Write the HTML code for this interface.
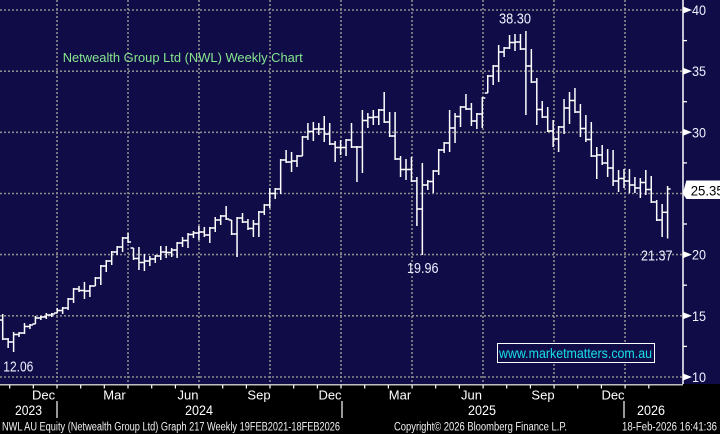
<!DOCTYPE html>
<html>
<head>
<meta charset="utf-8">
<style>
  html,body{margin:0;padding:0;background:#000;}
  body{width:720px;height:434px;overflow:hidden;}
  svg{display:block;font-family:"Liberation Sans",Arial,sans-serif;}
</style>
</head>
<body>
<svg id="c" width="720" height="434" viewBox="0 0 720 434" xmlns="http://www.w3.org/2000/svg">
  <rect x="0" y="0" width="720" height="384" fill="#100c48"/>
  <rect x="0" y="384" width="720" height="50" fill="#000"/>
  <g id="grid" stroke="#8c8c8c" stroke-width="1.6" stroke-dasharray="2,2" fill="none">
    <line x1="0" y1="10" x2="683" y2="10"/>
    <line x1="0" y1="71.2" x2="683" y2="71.2"/>
    <line x1="0" y1="132.3" x2="683" y2="132.3"/>
    <line x1="0" y1="193.5" x2="683" y2="193.5"/>
    <line x1="0" y1="254.6" x2="683" y2="254.6"/>
    <line x1="0" y1="315.8" x2="683" y2="315.8"/>
    <line x1="0" y1="377" x2="683" y2="377"/>
    <line x1="57" y1="0" x2="57" y2="384"/>
    <line x1="128" y1="0" x2="128" y2="384"/>
    <line x1="199" y1="0" x2="199" y2="384"/>
    <line x1="270" y1="0" x2="270" y2="384"/>
    <line x1="341" y1="0" x2="341" y2="384"/>
    <line x1="412" y1="0" x2="412" y2="384"/>
    <line x1="483" y1="0" x2="483" y2="384"/>
    <line x1="554" y1="0" x2="554" y2="384"/>
    <line x1="625" y1="0" x2="625" y2="384"/>
  </g>

  <!-- right axis -->
  <line x1="683" y1="0" x2="683" y2="384" stroke="#fff" stroke-width="1.5"/>
  <g fill="#fff">
    <polygon points="683,6.5 683,13.5 692,10"/>
    <polygon points="683,67.7 683,74.7 692,71.2"/>
    <polygon points="683,128.8 683,135.8 692,132.3"/>
    <polygon points="683,251.1 683,258.1 692,254.6"/>
    <polygon points="683,312.3 683,319.3 692,315.8"/>
    <polygon points="683,373.5 683,380.5 692,377"/>
  </g>
  <g stroke="#fff" stroke-width="1.3">
    <line x1="683" y1="40.6" x2="687" y2="40.6"/>
    <line x1="683" y1="101.7" x2="687" y2="101.7"/>
    <line x1="683" y1="162.9" x2="687" y2="162.9"/>
    <line x1="683" y1="224" x2="687" y2="224"/>
    <line x1="683" y1="285.2" x2="687" y2="285.2"/>
    <line x1="683" y1="346.4" x2="687" y2="346.4"/>
  </g>
  <g fill="#eef2ff" font-size="14">
    <text x="692" y="15" textLength="14" lengthAdjust="spacingAndGlyphs">40</text>
    <text x="692" y="76.2" textLength="14" lengthAdjust="spacingAndGlyphs">35</text>
    <text x="692" y="137.3" textLength="14" lengthAdjust="spacingAndGlyphs">30</text>
    <text x="692" y="259.6" textLength="14" lengthAdjust="spacingAndGlyphs">20</text>
    <text x="692" y="320.8" textLength="14" lengthAdjust="spacingAndGlyphs">15</text>
    <text x="692" y="382" textLength="14" lengthAdjust="spacingAndGlyphs">10</text>
  </g>
  <!-- last price box -->
  <polygon points="686.7,181 721,181 721,198.5 686.7,198.5 683.3,193.5" fill="#fff" stroke="#fff" stroke-width="1"/>
  <text x="690.7" y="195.3" font-size="14" fill="#000" textLength="33" lengthAdjust="spacingAndGlyphs">25.35</text>

  <!-- bars -->
  <g id="bars" stroke="#fff" stroke-width="1.5" fill="none"></g>

  <!-- annotations -->
  <text x="62.7" y="62" font-size="13" fill="#86e68e" textLength="240" lengthAdjust="spacingAndGlyphs">Netwealth Group Ltd (NWL) Weekly Chart</text>
  <g fill="#eef2ff" font-size="14.5">
    <text x="499" y="23.3" textLength="32" lengthAdjust="spacingAndGlyphs">38.30</text>
    <text x="407" y="273" textLength="31.5" lengthAdjust="spacingAndGlyphs">19.96</text>
    <text x="641" y="260.7" textLength="31.5" lengthAdjust="spacingAndGlyphs">21.37</text>
    <text x="3.3" y="371.5" textLength="30" lengthAdjust="spacingAndGlyphs">12.06</text>
  </g>
  <rect x="497.5" y="343.5" width="157" height="19" fill="#100c48" stroke="#fff" stroke-width="1"/>
  <text x="499" y="358" font-size="14" fill="#18e0e8" textLength="153" lengthAdjust="spacingAndGlyphs">www.marketmatters.com.au</text>

  <!-- bottom axis -->
  <line x1="0" y1="384.8" x2="683" y2="384.8" stroke="#fff" stroke-width="1.2"/>
  <g id="mticks" stroke="#fff" stroke-width="1.2"></g>
  <g stroke="#fff" stroke-width="1.2">
    <line x1="57" y1="401" x2="57" y2="418"/>
    <line x1="342" y1="401" x2="342" y2="418"/>
    <line x1="624" y1="401" x2="624" y2="418"/>
  </g>
  <g fill="#fff" font-size="13" text-anchor="middle">
    <text x="43.6" y="399.5">Dec</text>
    <text x="114.5" y="399.5">Mar</text>
    <text x="188" y="399.5">Jun</text>
    <text x="259" y="399.5">Sep</text>
    <text x="330" y="399.5">Dec</text>
    <text x="400" y="399.5">Mar</text>
    <text x="471.5" y="399.5">Jun</text>
    <text x="543" y="399.5">Sep</text>
    <text x="613" y="399.5">Dec</text>
  </g>
  <g fill="#fff" font-size="14">
    <text x="15" y="415" textLength="27" lengthAdjust="spacingAndGlyphs">2023</text>
    <text x="185" y="415" textLength="28" lengthAdjust="spacingAndGlyphs">2024</text>
    <text x="468" y="415" textLength="28" lengthAdjust="spacingAndGlyphs">2025</text>
    <text x="637" y="415" textLength="28" lengthAdjust="spacingAndGlyphs">2026</text>
  </g>
  <g fill="#f0f0f0" font-size="11.5">
    <text x="2" y="430.5" textLength="338" lengthAdjust="spacingAndGlyphs">NWL AU Equity (Netwealth Group Ltd) Graph 217 Weekly 19FEB2021-18FEB2026</text>
    <text x="394" y="430.5" textLength="173" lengthAdjust="spacingAndGlyphs">Copyright© 2026 Bloomberg Finance L.P.</text>
    <text x="622" y="430.5" textLength="95" lengthAdjust="spacingAndGlyphs">18-Feb-2026 16:41:36</text>
  </g>
</svg>
<script>
(function(){
  var NS="http://www.w3.org/2000/svg";
  var H=[314,338,332,332,323,324,316,316,313,313,308,307,298,288,286,282,285,277,265,260,251,246,237,233,248,247,254,256,255,246,246,248,242,237,233,231,226,227,227,217,215,206,220,217,213,219,220,211,204,188,188,159,150,152,155,136,123,122,123,116,123,141,140,139,123,146,110,113,110,109,92,112,112,156,159,157,177,163,180,170,149,142,110,113,106,94,103,113,97,75,65,45,47,35,34,34,31,49,78,101,107,120,126,99,92,88,104,115,122,147,145,149,150,170,169,169,177,178,170,176,200,204,186];
  var L=[340,348,352,337,334,329,324,320,319,317,313,314,310,303,292,299,297,286,285,272,265,255,252,243,260,270,271,266,263,260,258,257,258,247,248,238,240,237,243,232,225,220,235,257,223,230,237,237,215,208,199,194,163,172,167,156,140,141,135,142,145,162,155,156,148,182,173,128,125,125,123,137,160,177,180,182,226,255,190,193,175,153,152,143,127,110,126,129,128,93,85,82,57,49,51,50,115,83,125,118,132,147,152,134,124,113,137,142,157,179,165,177,186,192,188,193,193,198,195,203,221,237,238.5];
  var g=document.getElementById("bars");
  function ln(p,x1,y1,x2,y2){var e=document.createElementNS(NS,"line");e.setAttribute("x1",x1);e.setAttribute("y1",y1);e.setAttribute("x2",x2);e.setAttribute("y2",y2);p.appendChild(e);}
  function cl(v,a,b){return Math.max(a,Math.min(b,v));}
  var prevC=320;
  for(var i=0;i<H.length;i++){
    var x=2.7+5.45*i;
    var h=H[i],l=L[i];
    var o=cl(prevC,h,l);
    var c;
    if(i<H.length-1){c=cl((H[i+1]+L[i+1])/2,h+1,l-1);}else{c=189;}
    ln(g,x.toFixed(2),h,x.toFixed(2),l);
    ln(g,(x-3).toFixed(2),o.toFixed(1),x.toFixed(2),o.toFixed(1));
    ln(g,x.toFixed(2),c.toFixed(1),(x+3).toFixed(2),c.toFixed(1));
    prevC=c;
  }
  var t=document.getElementById("mticks");
  for(var m=-2;m<=25;m++){
    var xx=57+m*23.67;
    if(xx<0||xx>680)continue;
    ln(t,xx.toFixed(1),384.8,xx.toFixed(1),388.5);
  }
})();
</script>
</body>
</html>
